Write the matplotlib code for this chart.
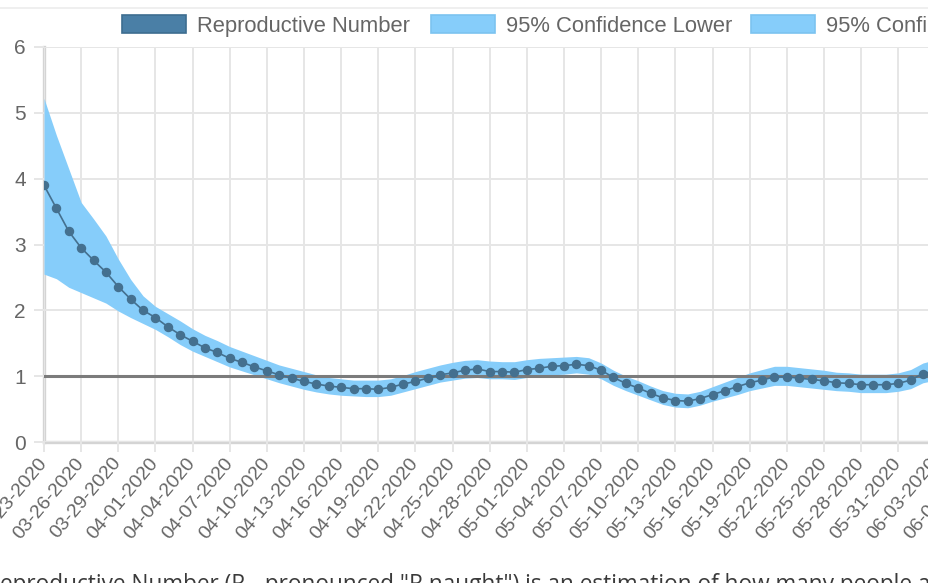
import numpy as np
import pandas as pd
import matplotlib
matplotlib.use('Agg')
import matplotlib.pyplot as plt
from matplotlib.patches import Rectangle
from matplotlib.lines import Line2D

# Daily reproductive number estimate, starting 03-23-2020
start_date = '2020-03-23'
r_values = [3.90, 3.55, 3.20, 2.95, 2.76, 2.58, 2.36, 2.17, 2.00, 1.89,
            1.75, 1.63, 1.53, 1.43, 1.36, 1.27, 1.21, 1.14, 1.08, 1.02,
            0.97, 0.92, 0.88, 0.85, 0.83, 0.81, 0.81, 0.80, 0.83, 0.88,
            0.92, 0.97, 1.02, 1.05, 1.09, 1.11, 1.07, 1.07, 1.06, 1.10,
            1.12, 1.15, 1.16, 1.18, 1.16, 1.09, 0.98, 0.89, 0.82, 0.74,
            0.67, 0.63, 0.62, 0.66, 0.72, 0.78, 0.84, 0.90, 0.94, 0.99,
            0.99, 0.97, 0.95, 0.93, 0.90, 0.89, 0.87, 0.87, 0.87, 0.89,
            0.94, 1.04, 1.08]
ci_upper = [5.22, 4.66, 4.15, 3.64, 3.39, 3.13, 2.78, 2.47, 2.22, 2.06,
            1.95, 1.84, 1.72, 1.62, 1.54, 1.45, 1.38, 1.31, 1.24, 1.17,
            1.12, 1.07, 1.02, 0.98, 0.96, 0.94, 0.94, 0.94, 0.96, 1.01,
            1.07, 1.12, 1.17, 1.21, 1.24, 1.25, 1.23, 1.22, 1.22, 1.25,
            1.27, 1.28, 1.29, 1.30, 1.28, 1.20, 1.09, 1.00, 0.93, 0.85,
            0.78, 0.74, 0.73, 0.77, 0.84, 0.91, 0.98, 1.05, 1.10, 1.15,
            1.15, 1.13, 1.11, 1.09, 1.06, 1.05, 1.03, 1.03, 1.03, 1.05,
            1.10, 1.20, 1.25]
ci_lower = [2.55, 2.48, 2.35, 2.27, 2.19, 2.11, 1.99, 1.89, 1.80, 1.71,
            1.60, 1.48, 1.38, 1.30, 1.22, 1.14, 1.08, 1.02, 0.96, 0.90,
            0.85, 0.80, 0.76, 0.73, 0.71, 0.70, 0.69, 0.69, 0.71, 0.76,
            0.81, 0.86, 0.91, 0.94, 0.97, 0.98, 0.96, 0.96, 0.95, 0.98,
            1.00, 1.02, 1.03, 1.05, 1.03, 0.96, 0.86, 0.78, 0.71, 0.64,
            0.57, 0.53, 0.52, 0.56, 0.62, 0.67, 0.72, 0.78, 0.82, 0.86,
            0.86, 0.84, 0.82, 0.80, 0.78, 0.77, 0.75, 0.75, 0.75, 0.77,
            0.81, 0.90, 0.94]
threshold = 1.0
legend_labels = ['Reproductive Number', '95% Confidence Lower',
                 '95% Confidence Upper']
caption = ('Reproductive Number (R\u2080, pronounced "R naught") is an estimation '
           'of how many people a single infected person will infect')

plt.rcParams['font.family'] = ['Liberation Sans', 'DejaVu Sans']

W, H = 929, 583
fig = plt.figure(figsize=(W / 100, H / 100), dpi=100)

# the original canvas is wider than the screenshot, so the axes run off the right edge
px_per_day = 12.38
n_axis_days = 75
ax = fig.add_axes([44 / W, (H - 442) / H, px_per_day * n_axis_days / W, (442 - 47) / H])

days = np.arange(len(r_values))
dates = pd.date_range(start_date, periods=n_axis_days + 1)
tick_pos = np.arange(0, n_axis_days + 1, 3)
tick_labels = [dates[i].strftime('%m-%d-%Y') for i in tick_pos]

band_col = '#86cdfa'
line_col = '#44708f'
grid_col = '#e6e6e6'

ax.fill_between(days, ci_lower, ci_upper, color=band_col, lw=0, zorder=1)
ax.axhline(threshold, color='#7b7b7b', lw=2.2, zorder=2)
ax.plot(days, r_values, color=line_col, lw=1.2, marker='o', ms=5.8,
        mfc=line_col, mec=line_col, zorder=3)

ax.set_xlim(0, n_axis_days)
ax.set_ylim(0, 6)
ax.set_xticks(tick_pos)
ax.set_xticklabels(tick_labels)
ax.set_yticks(range(7))
ax.grid(color=grid_col, lw=1.4, zorder=0)
ax.set_axisbelow(True)
for s in ax.spines.values():
    s.set_visible(False)
ax.axhline(0, color='#d4d4d4', lw=2.4, zorder=0.5, clip_on=False)
ax.axvline(0, color='#d4d4d4', lw=2.4, zorder=0.5, clip_on=False)

ax.tick_params(axis='both', length=7, width=1.4, color=grid_col,
               labelcolor='#666666')
ax.tick_params(axis='y', pad=6, labelsize=15)
ax.tick_params(axis='x', pad=6, labelsize=14)
for lab in ax.get_xticklabels():
    lab.set_rotation(50)
    lab.set_ha('right')
    lab.set_va('center')
    lab.set_rotation_mode('anchor')

# legend drawn by hand, centred over the full (cropped) canvas
box_x = [122, 431, 751]
box_cols = [('#4a7fa6', '#3d6d90'), (band_col, '#7cc3f0'), (band_col, '#7cc3f0')]
for bx, (fc, ec), lab in zip(box_x, box_cols, legend_labels):
    fig.patches.append(Rectangle((bx / W, (H - 33) / H), 64 / W, 18 / H,
                                 transform=fig.transFigure, facecolor=fc,
                                 edgecolor=ec, lw=1.2))
    fig.text((bx + 75) / W, (H - 24) / H, lab, fontsize=15.8, color='#666666',
             va='center_baseline', ha='left')

fig.lines.append(Line2D([0, 1], [(H - 8) / H] * 2, transform=fig.transFigure,
                        color='#ececec', lw=1.2))

fig.text(-14 / W, -8 / H, caption, fontsize=16.3, color='#3a3a3a',
         va='baseline', ha='left', family=['Open Sans', 'DejaVu Sans'])

fig.savefig('out.png', dpi=100)
